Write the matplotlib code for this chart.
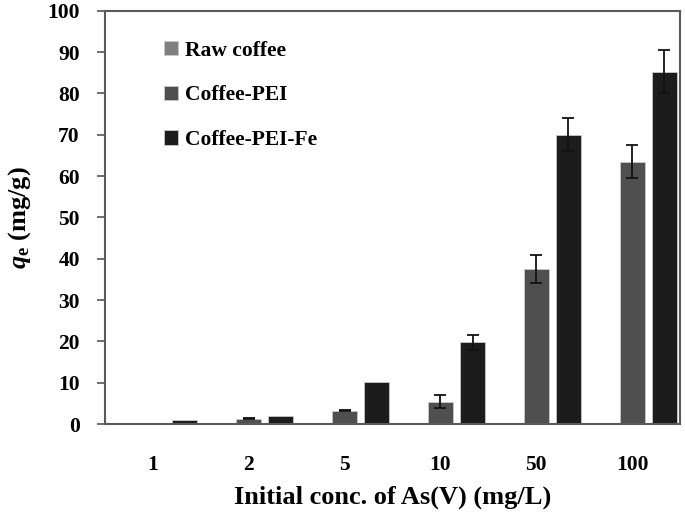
import matplotlib
matplotlib.use("Agg")
import matplotlib.pyplot as plt
import numpy as np

categories = ["1", "2", "5", "10", "50", "100"]
raw_coffee = [0.0, 0.0, 0.0, 0.0, 0.0, 0.3]
coffee_pei = [0.0, 1.3, 3.3, 5.4, 37.5, 63.5]
coffee_pei_fe = [0.9, 2.0, 10.2, 19.8, 70.0, 85.3]
err_raw = [0, 0, 0, 0, 0, 0]
err_pei = [0, 0.15, 0.15, 1.6, 3.4, 4.0]
err_fe = [0, 0, 0, 1.8, 4.0, 5.3]
yticks = [0, 10, 20, 30, 40, 50, 60, 70, 80, 90, 100]

plt.rcParams['mathtext.fontset'] = 'custom'
plt.rcParams['mathtext.rm'] = 'Liberation Serif:bold'
plt.rcParams['mathtext.it'] = 'Liberation Serif:italic:bold'
plt.rcParams['mathtext.bf'] = 'Liberation Serif:bold'
plt.rcParams['font.family'] = ['Liberation Serif']
plt.rcParams['font.weight'] = 'bold'

fig = plt.figure(figsize=(6.85, 5.16), dpi=100)
ax = fig.add_axes([0.153, 0.178, 0.840, 0.801])

x = np.arange(len(categories))
w = 0.26
off = 0.335
series = [
    ("Raw coffee", raw_coffee, err_raw, "#808080"),
    ("Coffee-PEI", coffee_pei, err_pei, "#4f4f4f"),
    ("Coffee-PEI-Fe", coffee_pei_fe, err_fe, "#1c1c1c"),
]
for i, (lab, vals, err, col) in enumerate(series):
    xe = x + (i - 1) * off
    ax.bar(xe, vals, width=w, color=col, edgecolor="#c8c8c8", linewidth=0.6, label=lab, zorder=2)
    e = np.array(err)
    mask = e > 0
    ax.errorbar(xe[mask], np.array(vals)[mask], yerr=e[mask], fmt="none",
                ecolor="#111111", elinewidth=1.3, capsize=4.5, capthick=1.3, zorder=3)

ax.set_xlim(-0.5, 5.5)
ax.set_ylim(0, 100)
ax.set_yticks(yticks)
ax.set_xticks(x)
ax.set_xticklabels(categories)
ax.tick_params(axis='x', length=0, pad=22, labelsize=15.5)
ax.tick_params(axis='y', length=6, width=1.2, color="#555555", direction='out', labelsize=15.5, pad=12)
for s in ax.spines.values():
    s.set_color("#5a5a5a")
    s.set_linewidth(1.5)

ax.set_xlabel("Initial conc. of As(V) (mg/L)", fontsize=19, fontweight='bold', labelpad=8)
ax.set_ylabel(r"$\mathit{q}_{\mathrm{e}}$ (mg/g)", fontsize=19, fontweight='bold', labelpad=10)

leg = ax.legend(loc='upper left', bbox_to_anchor=(0.07, 0.975), frameon=False,
                handlelength=0.65, handleheight=0.65, handletextpad=0.3,
                labelspacing=1.15, prop={'family': 'Liberation Serif', 'weight': 'bold', 'size': 15.5})

fig.savefig("out.png", dpi=100)
